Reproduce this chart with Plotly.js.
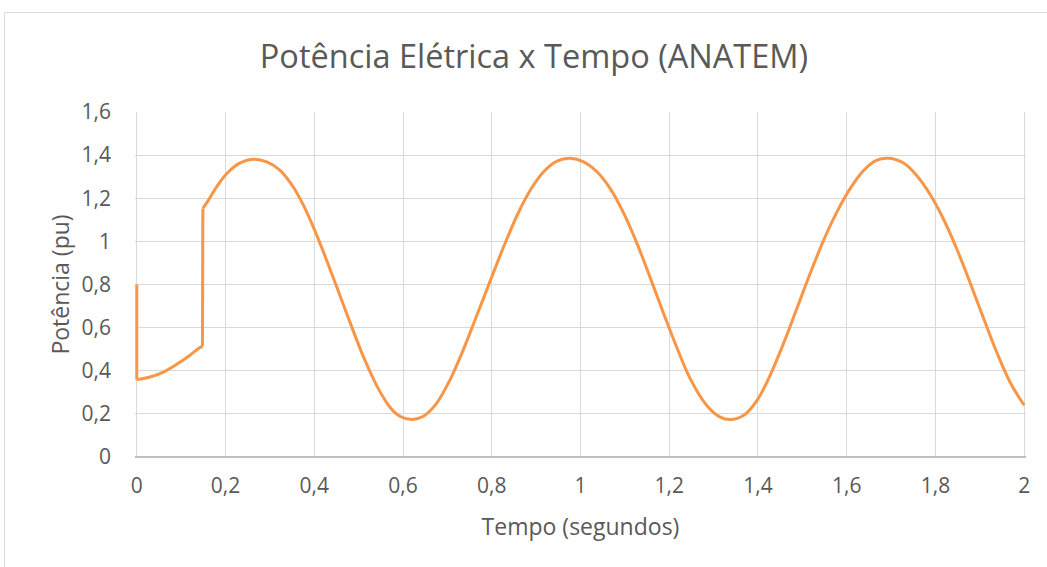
<!DOCTYPE html>
<html>
<head>
<meta charset="utf-8">
<script src="https://cdn.plot.ly/plotly-3.0.1.min.js"></script>
<style>
  html, body { margin: 0; padding: 0; background: #ffffff; }
  #frame { position: absolute; left: 4px; top: 12px; width: 1100px; height: 600px;
           border: 1px solid #d9d9d9; box-sizing: border-box; }
  #chart { position: absolute; left: 0; top: 0; width: 1047px; height: 567px; }
</style>
</head>
<body>
<div id="frame"></div>
<div id="chart"></div>
<script>
// Electrical power (pu) versus time (s), ANATEM simulation output
const tempo = [0, 0, 0.030, 0.060, 0.090, 0.120, 0.139, 0.148, 0.149, 0.159, 0.180, 0.203, 0.233, 0.263,
  0.293, 0.323, 0.353, 0.376, 0.398, 0.421, 0.451, 0.481, 0.511, 0.541, 0.571, 0.594, 0.620, 0.646,
  0.676, 0.706, 0.736, 0.766, 0.797, 0.827, 0.857, 0.887, 0.917, 0.947, 0.977, 1.007, 1.037, 1.067,
  1.097, 1.127, 1.157, 1.187, 1.218, 1.248, 1.285, 1.315, 1.338, 1.368, 1.398, 1.428, 1.458, 1.488,
  1.518, 1.548, 1.578, 1.608, 1.638, 1.668, 1.695, 1.729, 1.759, 1.789, 1.819, 1.849, 1.879, 1.909,
  1.939, 1.969, 2.000];
const potencia = [0.80, 0.359, 0.371, 0.394, 0.430, 0.472, 0.503, 0.514, 1.153, 1.183, 1.253, 1.315, 1.364, 1.381,
  1.369, 1.329, 1.251, 1.166, 1.066, 0.949, 0.787, 0.622, 0.464, 0.330, 0.230, 0.188, 0.174, 0.189,
  0.250, 0.358, 0.498, 0.655, 0.819, 0.976, 1.120, 1.238, 1.323, 1.372, 1.385, 1.369, 1.323, 1.245,
  1.132, 0.992, 0.832, 0.667, 0.503, 0.360, 0.238, 0.185, 0.174, 0.194, 0.263, 0.382, 0.529, 0.691,
  0.853, 1.006, 1.137, 1.246, 1.329, 1.377, 1.385, 1.362, 1.302, 1.214, 1.099, 0.960, 0.803, 0.640,
  0.481, 0.343, 0.240];

const xTickVals = [0, 0.2, 0.4, 0.6, 0.8, 1, 1.2, 1.4, 1.6, 1.8, 2];
const xTickText = ['0', '0,2', '0,4', '0,6', '0,8', '1', '1,2', '1,4', '1,6', '1,8', '2'];
const yTickVals = [0, 0.2, 0.4, 0.6, 0.8, 1, 1.2, 1.4, 1.6];
const yTickText = ['0', '0,2', '0,4', '0,6', '0,8', '1', '1,2', '1,4', '1,6'];

const textColor = '#595959';
const lineColor = '#f79646';
const fontFamily = '"Open Sans", "Noto Sans", sans-serif';

// One series, drawn in pieces so the two step changes stay vertical while
// the smooth parts are drawn as splines.
const jumpStart = tempo.findIndex((t, i) => i > 1 && tempo[i + 1] - t < 0.005);
const pieces = [
  { from: 0, to: 1, shape: 'linear' },
  { from: 1, to: jumpStart, shape: 'spline' },
  { from: jumpStart, to: jumpStart + 1, shape: 'linear' },
  { from: jumpStart + 1, to: tempo.length - 1, shape: 'spline' }
];
const traces = pieces.map(p => ({
  x: tempo.slice(p.from, p.to + 1),
  y: potencia.slice(p.from, p.to + 1),
  type: 'scatter',
  mode: 'lines',
  line: { color: lineColor, width: 3, shape: p.shape, smoothing: 1 },
  hoverinfo: 'x+y'
}));

// x range padded a hair so the line at t = 0 and t = 2 is not clipped
const xPad = 0.004;
const pxPerUnit = 887.3 / 2;

const layout = {
  width: 1047,
  height: 567,
  paper_bgcolor: 'rgba(0,0,0,0)',
  plot_bgcolor: 'rgba(0,0,0,0)',
  margin: { l: 136.7 - xPad * pxPerUnit, r: 23 - xPad * pxPerUnit, t: 112, b: 110 },
  showlegend: false,
  title: {
    text: 'Potência Elétrica x Tempo (ANATEM)',
    font: { family: fontFamily, size: 32.5, color: textColor },
    xref: 'container', yref: 'container',
    x: 0.51, xanchor: 'center',
    y: 0.9, yanchor: 'middle'
  },
  xaxis: {
    range: [-xPad, 2 + xPad],
    tickvals: xTickVals,
    ticktext: xTickText,
    showgrid: true,
    gridcolor: '#d9d9d9',
    gridwidth: 1,
    zeroline: false,
    showline: false,
    ticks: '',
    ticklabelstandoff: 14,
    tickfont: { family: fontFamily, size: 21, color: textColor },
    title: {
      text: 'Tempo (segundos)',
      font: { family: fontFamily, size: 23, color: textColor },
      standoff: 20
    }
  },
  yaxis: {
    range: [0, 1.6],
    tickvals: yTickVals,
    ticktext: yTickText,
    showgrid: true,
    gridcolor: '#d9d9d9',
    gridwidth: 1,
    zeroline: true,
    zerolinecolor: '#bfbfbf',
    zerolinewidth: 1.5,
    showline: false,
    ticks: '',
    ticklabelstandoff: 23,
    tickfont: { family: fontFamily, size: 21, color: textColor },
    title: {
      text: 'Potência (pu)',
      font: { family: fontFamily, size: 23, color: textColor },
      standoff: 5
    }
  }
};

Plotly.newPlot('chart', traces, layout, { displayModeBar: false, staticPlot: true });
</script>
</body>
</html>
